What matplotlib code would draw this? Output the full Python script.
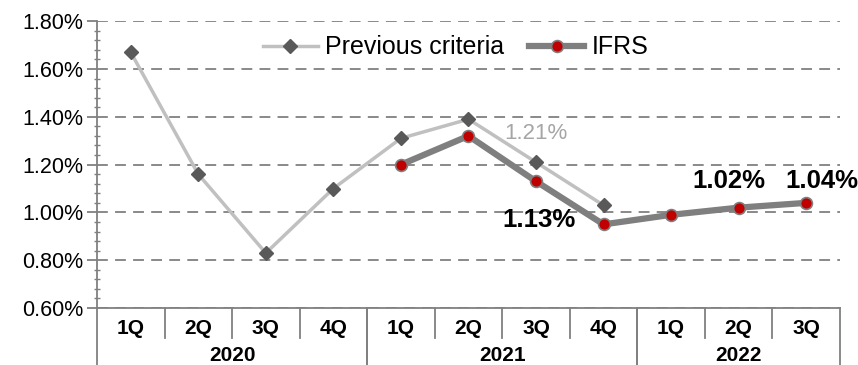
import numpy as np
import matplotlib.pyplot as plt
from matplotlib.ticker import MultipleLocator, FuncFormatter

plt.rcParams['font.family'] = ['Liberation Sans', 'DejaVu Sans']

# quarterly ratios (%)
quarters = ['1Q', '2Q', '3Q', '4Q', '1Q', '2Q', '3Q', '4Q', '1Q', '2Q', '3Q']
years = ['2020', '2021', '2022']
year_span = [4, 4, 3]
previous = [1.67, 1.16, 0.83, 1.10, 1.31, 1.39, 1.21, 1.03, None, None, None]
ifrs = [None, None, None, None, 1.20, 1.32, 1.13, 0.95, 0.99, 1.02, 1.04]

x = np.arange(len(quarters))
prev_y = np.array([np.nan if v is None else v for v in previous])
ifrs_y = np.array([np.nan if v is None else v for v in ifrs])

fig = plt.figure(figsize=(8.58, 3.65), dpi=100)
ax = fig.add_axes([0.113, 0.156, 0.866, 0.786])

grey = '#808080'
ax.plot(x, prev_y, color='#c0c0c0', lw=2.5, marker='D', ms=7.5,
        mfc='#595959', mec='#595959', label='Previous criteria', zorder=3)
ax.plot(x, ifrs_y, color='#7f7f7f', lw=4.5, marker='o', ms=8.5,
        mfc='#c00000', mec='#7f7f7f', mew=1.2, label='IFRS', zorder=4)

ax.set_xlim(-0.5, len(quarters) - 0.5)
ax.set_ylim(0.6, 1.8)
ax.yaxis.set_major_locator(MultipleLocator(0.2))
ax.yaxis.set_minor_locator(MultipleLocator(0.04))
ax.yaxis.set_major_formatter(FuncFormatter(lambda v, p: '%.2f%%' % v))
ax.grid(axis='y', color=grey, ls=(0, (6, 4)), lw=1.3)
ax.set_axisbelow(True)

for s in ['top', 'right']:
    ax.spines[s].set_visible(False)
for s in ['left', 'bottom']:
    ax.spines[s].set_color(grey)
    ax.spines[s].set_linewidth(1.3)

ax.tick_params(axis='y', which='major', direction='out', length=7,
               color=grey, width=1.3, labelsize=15.5, pad=3)
ax.tick_params(axis='y', which='minor', direction='inout', length=4,
               color=grey, width=1)
ax.tick_params(axis='x', bottom=False, labelbottom=False)

# two-level category axis
trans = ax.get_xaxis_transform()
for i, q in enumerate(quarters):
    ax.text(i, -0.072, q, transform=trans, ha='center', va='center',
            fontsize=15, fontweight='bold')
for b in np.arange(0.5, len(quarters) - 1):
    ax.plot([b, b], [0, -0.105], transform=trans, color=grey, lw=1.3,
            clip_on=False)
start = 0
for yr, n in zip(years, year_span):
    ax.text(start + (n - 1) / 2, -0.165, yr, transform=trans, ha='center',
            va='center', fontsize=15, fontweight='bold')
    for b in (start - 0.5, start + n - 0.5):
        ax.plot([b, b], [0, -0.2], transform=trans, color=grey, lw=1.3,
                clip_on=False)
    start += n

# value labels
ax.annotate('%.2f%%' % previous[6], (6, previous[6]), xytext=(0, 21),
            textcoords='offset points', ha='center', va='center',
            fontsize=16, color='#a6a6a6')
ax.annotate('%.2f%%' % ifrs[6], (6, ifrs[6]), xytext=(2, -28),
            textcoords='offset points', ha='center', va='center',
            fontsize=18.5, fontweight='bold')
ax.annotate('%.2f%%' % ifrs[9], (9, ifrs[9]), xytext=(-7, 19),
            textcoords='offset points', ha='center', va='center',
            fontsize=18.5, fontweight='bold')
ax.annotate('%.2f%%' % ifrs[10], (10, ifrs[10]), xytext=(11, 16),
            textcoords='offset points', ha='center', va='center',
            fontsize=18.5, fontweight='bold', annotation_clip=False)

leg = ax.legend(loc='center', bbox_to_anchor=(0.483, 0.909), ncol=2,
                fontsize=18, frameon=True, facecolor='white',
                edgecolor='none', framealpha=1, handlelength=2.2,
                handletextpad=0.3, columnspacing=1.0, borderpad=0.3)

fig.savefig('out.png', dpi=100)
